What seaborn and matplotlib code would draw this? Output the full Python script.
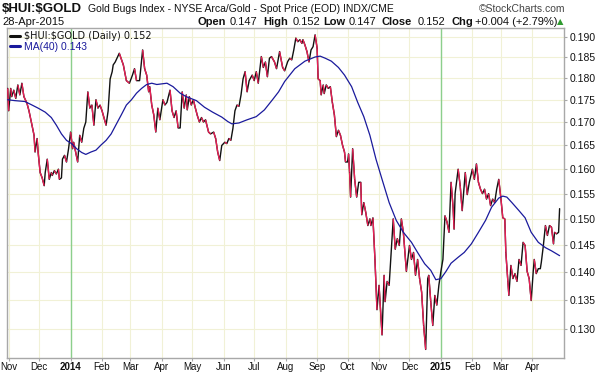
import numpy as np
import pandas as pd
import matplotlib
matplotlib.use('Agg')
import matplotlib.pyplot as plt
from matplotlib.collections import LineCollection
import matplotlib.dates as mdates
import seaborn as sns

# --- データ（チャートから読み取り） ---
price_dates = [
    '2013-10-31', '2013-11-01', '2013-11-03', '2013-11-04', '2013-11-06', '2013-11-08', '2013-11-10',
    '2013-11-12', '2013-11-14', '2013-11-16', '2013-11-19', '2013-11-21', '2013-11-24', '2013-11-26',
    '2013-11-27', '2013-11-29', '2013-11-30', '2013-12-02', '2013-12-04', '2013-12-06', '2013-12-07',
    '2013-12-09', '2013-12-11', '2013-12-13', '2013-12-14', '2013-12-16', '2013-12-18', '2013-12-20',
    '2013-12-21', '2013-12-23', '2013-12-24', '2013-12-26', '2013-12-28', '2013-12-30',
    '2014-01-01', '2014-01-03', '2014-01-04', '2014-01-06', '2014-01-08', '2014-01-10', '2014-01-12',
    '2014-01-14', '2014-01-16', '2014-01-18', '2014-01-20', '2014-01-22', '2014-01-24', '2014-01-26',
    '2014-01-28', '2014-01-30', '2014-02-01', '2014-02-05', '2014-02-07', '2014-02-09', '2014-02-11',
    '2014-02-12', '2014-02-14', '2014-02-18', '2014-02-22', '2014-02-25', '2014-02-28', '2014-03-03',
    '2014-03-05', '2014-03-07', '2014-03-10', '2014-03-13', '2014-03-15', '2014-03-17', '2014-03-19',
    '2014-03-20', '2014-03-22', '2014-03-24', '2014-03-26', '2014-03-28', '2014-03-30', '2014-04-02',
    '2014-04-04', '2014-04-06', '2014-04-09', '2014-04-11', '2014-04-13', '2014-04-15', '2014-04-17',
    '2014-04-19', '2014-04-21', '2014-04-23', '2014-04-25', '2014-04-26', '2014-04-28', '2014-04-30',
    '2014-05-02', '2014-05-04', '2014-05-06', '2014-05-08', '2014-05-10', '2014-05-12', '2014-05-14',
    '2014-05-17', '2014-05-19', '2014-05-22', '2014-05-24', '2014-05-26', '2014-05-28', '2014-05-30',
    '2014-06-02', '2014-06-04', '2014-06-06', '2014-06-08', '2014-06-10', '2014-06-12', '2014-06-14',
    '2014-06-16', '2014-06-18', '2014-06-20', '2014-06-22', '2014-06-24', '2014-06-26', '2014-06-29',
    '2014-07-01', '2014-07-03', '2014-07-05', '2014-07-08', '2014-07-10', '2014-07-12', '2014-07-14',
    '2014-07-16', '2014-07-18', '2014-07-21', '2014-07-23', '2014-07-26', '2014-07-29', '2014-07-31',
    '2014-08-03', '2014-08-05', '2014-08-07', '2014-08-09', '2014-08-11', '2014-08-13', '2014-08-15',
    '2014-08-17', '2014-08-18', '2014-08-20', '2014-08-22', '2014-08-24', '2014-08-26', '2014-08-28',
    '2014-08-30', '2014-09-01', '2014-09-02', '2014-09-04', '2014-09-05', '2014-09-07', '2014-09-08',
    '2014-09-10', '2014-09-12', '2014-09-14', '2014-09-16', '2014-09-18', '2014-09-20', '2014-09-22',
    '2014-09-24', '2014-09-26', '2014-09-28', '2014-09-29', '2014-10-01', '2014-10-02', '2014-10-03',
    '2014-10-04', '2014-10-06', '2014-10-08', '2014-10-10', '2014-10-12', '2014-10-14', '2014-10-15',
    '2014-10-17', '2014-10-19', '2014-10-21', '2014-10-23', '2014-10-24', '2014-10-26', '2014-10-28',
    '2014-10-30', '2014-11-01', '2014-11-04', '2014-11-06', '2014-11-07', '2014-11-09', '2014-11-11',
    '2014-11-13', '2014-11-15', '2014-11-17', '2014-11-19', '2014-11-21', '2014-11-23', '2014-11-25',
    '2014-11-28', '2014-12-01', '2014-12-03', '2014-12-05', '2014-12-07', '2014-12-09', '2014-12-11',
    '2014-12-13', '2014-12-15', '2014-12-17', '2014-12-19', '2014-12-20', '2014-12-22', '2014-12-24',
    '2014-12-26', '2014-12-28', '2014-12-30',
    '2015-01-01', '2015-01-03', '2015-01-05', '2015-01-07', '2015-01-09', '2015-01-11', '2015-01-13',
    '2015-01-14', '2015-01-15', '2015-01-18', '2015-01-20', '2015-01-22', '2015-01-25', '2015-01-27',
    '2015-01-29', '2015-02-01', '2015-02-03', '2015-02-05', '2015-02-07', '2015-02-09', '2015-02-11',
    '2015-02-13', '2015-02-15', '2015-02-17', '2015-02-19', '2015-02-21', '2015-02-23', '2015-02-25',
    '2015-02-27', '2015-03-01', '2015-03-03', '2015-03-05', '2015-03-06', '2015-03-08', '2015-03-09',
    '2015-03-11', '2015-03-13', '2015-03-15', '2015-03-17', '2015-03-19', '2015-03-21', '2015-03-23',
    '2015-03-25', '2015-03-27', '2015-03-29', '2015-03-31', '2015-04-02', '2015-04-03', '2015-04-05',
    '2015-04-07', '2015-04-09', '2015-04-10', '2015-04-12', '2015-04-14', '2015-04-16', '2015-04-18',
    '2015-04-20', '2015-04-22', '2015-04-23', '2015-04-25', '2015-04-27', '2015-04-28',
]
price_close = [
    0.1777, 0.1726, 0.1777, 0.1758, 0.1773, 0.1754, 0.1785,
    0.1762, 0.1789, 0.1758, 0.1743, 0.1726, 0.1694, 0.1672,
    0.1636, 0.1665, 0.1636, 0.1593, 0.1582, 0.1566, 0.1593,
    0.1621, 0.1579, 0.1593, 0.1587, 0.1597, 0.1590, 0.1600,
    0.1579, 0.1582, 0.1621, 0.1629, 0.1615, 0.1643,
    0.1679, 0.1643, 0.1657, 0.1636, 0.1615, 0.1672, 0.1657,
    0.1687, 0.1701, 0.1769, 0.1732, 0.1739, 0.1694, 0.1751,
    0.1732, 0.1739, 0.1726, 0.1694, 0.1726, 0.1799, 0.1816,
    0.1832, 0.1839, 0.1860, 0.1832, 0.1795, 0.1789, 0.1808,
    0.1823, 0.1795, 0.1795, 0.1868, 0.1823, 0.1808, 0.1769,
    0.1781, 0.1739, 0.1717, 0.1679, 0.1732, 0.1706, 0.1751,
    0.1739, 0.1745, 0.1773, 0.1726, 0.1711, 0.1726, 0.1688,
    0.1688, 0.1769, 0.1732, 0.1762, 0.1728, 0.1758, 0.1739,
    0.1751, 0.1732, 0.1715, 0.1701, 0.1711, 0.1701, 0.1706,
    0.1679, 0.1675, 0.1679, 0.1665, 0.1636, 0.1618, 0.1650,
    0.1657, 0.1654, 0.1665, 0.1661, 0.1687, 0.1726, 0.1739,
    0.1736, 0.1762, 0.1799, 0.1816, 0.1769, 0.1795, 0.1808,
    0.1795, 0.1816, 0.1789, 0.1852, 0.1826, 0.1839, 0.1804,
    0.1848, 0.1852, 0.1839, 0.1823, 0.1864, 0.1826, 0.1818,
    0.1840, 0.1848, 0.1844, 0.1868, 0.1897, 0.1888, 0.1893,
    0.1884, 0.1893, 0.1880, 0.1864, 0.1839, 0.1868, 0.1876,
    0.1905, 0.1872, 0.1799, 0.1795, 0.1762, 0.1785, 0.1765,
    0.1785, 0.1777, 0.1781, 0.1745, 0.1717, 0.1669, 0.1683,
    0.1672, 0.1651, 0.1636, 0.1615, 0.1615, 0.1632, 0.1593,
    0.1543, 0.1643, 0.1579, 0.1543, 0.1573, 0.1573, 0.1508,
    0.1532, 0.1512, 0.1487, 0.1500, 0.1487, 0.1502, 0.1423,
    0.1333, 0.1376, 0.1290, 0.1394, 0.1347, 0.1383, 0.1376,
    0.1436, 0.1500, 0.1442, 0.1462, 0.1449, 0.1500, 0.1474,
    0.1401, 0.1449, 0.1423, 0.1436, 0.1394, 0.1423, 0.1388,
    0.1364, 0.1306, 0.1266, 0.1388, 0.1394, 0.1347, 0.1306,
    0.1358, 0.1341, 0.1376,
    0.1401, 0.1423, 0.1506, 0.1494, 0.1474, 0.1573, 0.1523,
    0.1480, 0.1550, 0.1600, 0.1566, 0.1516, 0.1593, 0.1548,
    0.1573, 0.1600, 0.1579, 0.1611, 0.1573, 0.1559, 0.1550,
    0.1559, 0.1539, 0.1550, 0.1526, 0.1539, 0.1532, 0.1559,
    0.1579, 0.1543, 0.1502, 0.1500, 0.1436, 0.1383, 0.1358,
    0.1412, 0.1388, 0.1397, 0.1383, 0.1423, 0.1412, 0.1455,
    0.1449, 0.1401, 0.1388, 0.1349, 0.1401, 0.1423, 0.1397,
    0.1406, 0.1406, 0.1418, 0.1449, 0.1487, 0.1468, 0.1487,
    0.1484, 0.1452, 0.1474, 0.1471, 0.1474, 0.1520,
]

ma_dates = [
    '2013-10-31', '2013-11-07', '2013-11-17', '2013-11-24', '2013-11-30', '2013-12-07', '2013-12-13',
    '2013-12-18', '2013-12-23', '2013-12-28', '2014-01-02', '2014-01-07', '2014-01-12', '2014-01-16',
    '2014-01-21', '2014-01-26', '2014-01-31', '2014-02-05', '2014-02-10', '2014-02-15', '2014-02-20',
    '2014-02-25', '2014-03-02', '2014-03-07', '2014-03-12', '2014-03-17', '2014-03-22', '2014-03-27',
    '2014-04-06', '2014-04-12', '2014-04-19', '2014-04-25', '2014-05-05', '2014-05-13', '2014-05-21',
    '2014-05-30', '2014-06-05', '2014-06-09', '2014-06-16', '2014-06-24', '2014-07-03', '2014-07-11',
    '2014-07-19', '2014-07-25', '2014-07-31', '2014-08-05', '2014-08-10', '2014-08-20', '2014-08-30',
    '2014-09-04', '2014-09-09', '2014-09-15', '2014-09-22', '2014-09-28', '2014-10-05', '2014-10-11',
    '2014-10-17', '2014-10-23', '2014-10-29', '2014-11-04', '2014-11-11', '2014-11-18', '2014-11-25',
    '2014-12-03', '2014-12-09', '2014-12-16', '2014-12-22', '2014-12-27', '2015-01-01', '2015-01-06',
    '2015-01-11', '2015-01-18', '2015-01-24', '2015-01-31', '2015-02-07', '2015-02-14', '2015-02-20',
    '2015-02-27', '2015-03-03', '2015-03-07', '2015-03-12', '2015-03-19', '2015-03-25', '2015-03-31',
    '2015-04-07', '2015-04-14', '2015-04-20', '2015-04-28',
]
ma_values = [
    0.1751, 0.1749, 0.1747, 0.1739, 0.1732, 0.1723, 0.1711,
    0.1694, 0.1675, 0.1661, 0.1654, 0.1643, 0.1635, 0.1631,
    0.1636, 0.1640, 0.1651, 0.1661, 0.1675, 0.1696, 0.1717,
    0.1739, 0.1751, 0.1766, 0.1777, 0.1786, 0.1789, 0.1786,
    0.1789, 0.1781, 0.1766, 0.1758, 0.1749, 0.1734, 0.1723,
    0.1712, 0.1702, 0.1697, 0.1699, 0.1706, 0.1713, 0.1728,
    0.1751, 0.1769, 0.1793, 0.1808, 0.1823, 0.1841, 0.1851,
    0.1853, 0.1848, 0.1841, 0.1826, 0.1808, 0.1781, 0.1745,
    0.1713, 0.1672, 0.1621, 0.1579, 0.1532, 0.1497, 0.1474,
    0.1455, 0.1436, 0.1415, 0.1403, 0.1386, 0.1388, 0.1401,
    0.1416, 0.1427, 0.1436, 0.1452, 0.1474, 0.1497, 0.1523,
    0.1541, 0.1545, 0.1543, 0.1532, 0.1516, 0.1502, 0.1474,
    0.1455, 0.1445, 0.1439, 0.1430,
]

y_ticks = [0.130, 0.135, 0.140, 0.145, 0.150, 0.155, 0.160, 0.165, 0.170, 0.175, 0.180, 0.185, 0.190]
month_ticks = ['2013-11-01', '2013-12-01', '2014-01-01', '2014-02-01', '2014-03-01', '2014-04-01',
               '2014-05-01', '2014-06-01', '2014-07-01', '2014-08-01', '2014-09-01', '2014-10-01',
               '2014-11-01', '2014-12-01', '2015-01-01', '2015-02-01', '2015-03-01', '2015-04-01']
month_labels = ['Nov', 'Dec', '2014', 'Feb', 'Mar', 'Apr', 'May', 'Jun', 'Jul', 'Aug', 'Sep', 'Oct',
                'Nov', 'Dec', '2015', 'Feb', 'Mar', 'Apr']
year_lines = ['2014-01-01', '2015-01-01']

# --- スタイル ---
sns.set_style('white')
plt.rcParams['font.family'] = ['Liberation Sans', 'DejaVu Sans']

RED = '#ea1f55'
BLACK = '#111111'
NAVY = '#1a1a9c'
GRID = '#f1f1d6'
FRAME = '#a8a8a8'

df = pd.DataFrame({'date': pd.to_datetime(price_dates), 'close': price_close})
ma = pd.DataFrame({'date': pd.to_datetime(ma_dates), 'ma': ma_values})

W, H = 599, 372
fig = plt.figure(figsize=(W / 100, H / 100), dpi=100)
ax = fig.add_axes([7 / W, 1 - 358 / H, (564 - 7) / W, (358 - 28) / H])

# 価格ライン（上昇=黒、下落=赤）
sns.lineplot(data=df, x='date', y='close', color=BLACK, linewidth=1.0, ax=ax,
             label=r'\$HUI:\$GOLD (Daily) 0.152', zorder=3)
xs = mdates.date2num(df['date'])
ys = df['close'].to_numpy()
segs = np.stack([np.column_stack([xs[:-1], ys[:-1]]), np.column_stack([xs[1:], ys[1:]])], axis=1)
down = ys[1:] < ys[:-1]
ax.add_collection(LineCollection(segs[down], colors=RED, linewidths=1.0, zorder=4))

# 移動平均
sns.lineplot(data=ma, x='date', y='ma', color=NAVY, linewidth=0.9, ax=ax,
             label='MA(40) 0.143', zorder=5)

# --- 軸 ---
ax.set_yscale('log')
ax.set_ylim(0.1252, 0.1922)
ax.set_yticks(y_ticks)
ax.set_yticklabels([f'{v:.3f}' for v in y_ticks])
ax.minorticks_off()
ax.yaxis.tick_right()
ax.set_xlim(pd.Timestamp('2013-10-30 08:00'), pd.Timestamp('2015-05-02 08:00'))
ax.set_xticks(pd.to_datetime(month_ticks))
ax.set_xticklabels(month_labels)
for lab in ax.get_xticklabels():
    lab.set_fontsize(7)
    if lab.get_text() in ('2014', '2015'):
        lab.set_fontweight('bold')
ax.set_xlabel('')
ax.set_ylabel('')
ax.tick_params(axis='both', which='major', width=0.8, color=FRAME, labelcolor='#111111')
ax.tick_params(axis='x', bottom=True, length=2, pad=1)
ax.tick_params(axis='y', right=True, left=False, labelright=True, labelleft=False,
               length=2, pad=2, labelsize=7.5)

ax.grid(True, color=GRID, linewidth=0.8, zorder=0)
for d in year_lines:
    ax.axvline(pd.Timestamp(d), color='#8ccf8c', linewidth=1.0, zorder=1)
for sp in ax.spines.values():
    sp.set_visible(True)
    sp.set_color(FRAME)
    sp.set_linewidth(1.0)

# 凡例
leg = ax.legend(loc='upper left', frameon=False, fontsize=7, handlelength=1.0,
                handletextpad=0.4, labelspacing=0.1, borderaxespad=0.2, borderpad=0.1)
for line in leg.get_lines():
    line.set_linewidth(2.2)
t0, t1 = leg.get_texts()
t0.set_fontfamily(['DejaVu Sans'])
t0.set_color('#111111')
t1.set_color(NAVY)
t1.set_fontsize(7.5)

# --- ヘッダー ---
def fx(px):
    return px / W

def fy(py):
    return 1 - py / H

fig.text(fx(2), fy(12.5), r'\$HUI:\$GOLD', fontsize=9.5, fontweight='bold', va='baseline', color='#111111')
fig.text(fx(88), fy(12.5), 'Gold Bugs Index - NYSE Arca/Gold - Spot Price (EOD) INDX/CME',
         fontsize=7.5, va='baseline', color='#111111')
fig.text(fx(565), fy(12), '\u00a9StockCharts.com', fontsize=7.5, va='baseline', ha='right', color='#444444')
fig.text(fx(2), fy(25), '28-Apr-2015', fontsize=8, va='baseline', color='#111111')

quote = [('Open', 198, True), ('0.147', 230, False), ('High', 263, True), ('0.152', 293, False),
         ('Low', 323, True), ('0.147', 349, False), ('Close', 382, True), ('0.152', 418, False),
         ('Chg', 452, True), ('+0.004 (+2.79%)', 475, False)]
for txt, px, bold in quote:
    fig.text(fx(px), fy(25), txt, fontsize=8, va='baseline', color='#111111',
             fontweight='bold' if bold else 'normal')
fig.text(fx(557), fy(24.5), '\u25b2', fontsize=6, va='baseline', color='#2e9a2e',
         family=['DejaVu Sans'])

fig.savefig('out.png', dpi=100)
